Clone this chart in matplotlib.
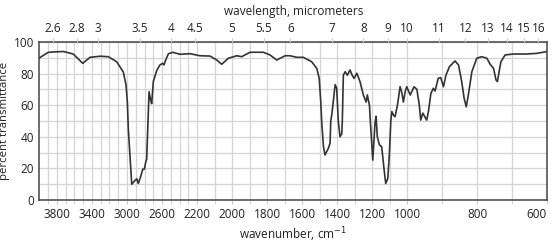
import numpy as np
import matplotlib
matplotlib.use('Agg')
import matplotlib.pyplot as plt
from matplotlib.ticker import FixedLocator, NullFormatter

plt.rcParams['font.family'] = ['Open Sans', 'DejaVu Sans']

# spectrum: wavenumber (cm^-1) and percent transmittance
wavenumber = [4000, 3899, 3728, 3614, 3506, 3423, 3309, 3214, 3118, 3042, 3011, 2996,
              2985, 2946, 2916, 2889, 2871, 2843, 2820, 2802, 2786, 2775, 2756, 2748,
              2729, 2718, 2699, 2660, 2623, 2592, 2577, 2566, 2528, 2478, 2394, 2280,
              2183, 2126, 2087, 2059, 2021, 1973, 1945, 1897, 1821, 1783, 1745, 1697,
              1669, 1630, 1593, 1545, 1516, 1502, 1493, 1488, 1478, 1469, 1450, 1440,
              1436, 1429, 1411, 1402, 1393, 1383, 1373, 1370, 1364, 1354, 1341, 1326,
              1314, 1303, 1287, 1269, 1250, 1234, 1227, 1215, 1211, 1196, 1189, 1183,
              1177, 1170, 1158, 1145, 1131, 1122, 1110, 1101, 1093, 1087, 1078, 1069,
              1055, 1040, 1031, 1021, 1011, 1002, 991, 980, 972, 965, 961, 955, 944,
              939, 932, 925, 920, 911, 904, 896, 889, 879, 863, 853, 844, 837, 831,
              825, 815, 801, 787, 772, 763, 753, 746, 742, 737, 732, 720, 696, 658,
              630, 601]
transmittance = [90, 93.5, 94, 92.4, 86.5, 90.3, 91, 90.7, 87.5, 81, 72.8, 62,
                 45, 10, 12, 13.5, 10.5, 15, 19.5, 19.5, 24, 26, 55, 68.5,
                 63, 61, 75, 82, 85.5, 86.5, 85.5, 87.5, 92.5, 93.5, 92.2, 92.6,
                 91.3, 91.1, 88.6, 85.9, 89.7, 91.3, 90.7, 93.5, 93.5, 91.8, 88.6, 91.3,
                 91.3, 90.3, 90.3, 87.5, 83.3, 77, 62, 50, 34, 28.5, 32.7, 36,
                 50, 55, 73, 70.7, 50, 40, 42, 50, 79, 81.2, 79, 82.3,
                 79, 77, 80.2, 75, 66.5, 62, 66.5, 60, 52, 25.3, 38, 49,
                 53, 40, 35, 33.7, 19, 10.5, 13.7, 29.5, 50, 56, 53.8, 52.7,
                 60, 71.7, 68.5, 62, 68.5, 71.7, 66.5, 71.7, 70, 60, 50.6, 55, 50.6,
                 56, 67.5, 70.7, 69, 77, 77.5, 71.7, 79, 84.4, 88, 85.4, 75, 64.3, 59,
                 66.5, 81.2, 89.7, 90.7, 89.7, 86, 83.3, 76, 75, 81.2, 87.5, 91.8, 92.4, 92.4,
                 92.8, 93.9]

wn_ticks = [3800, 3400, 3000, 2600, 2200, 2000, 1800, 1600, 1400, 1200, 1000, 800, 600]
wl_ticks = [2.6, 2.8, 3, 3.5, 4, 4.5, 5, 5.5, 6, 7, 8, 9, 10, 11, 12, 13, 14, 15, 16]
wl_labels = ['2.6', '2.8', '3', '3.5', '4', '4.5', '5', '5.5', '6', '7', '8', '9', '10',
             '11', '12', '13', '14', '15', '16']
y_ticks = [0, 20, 40, 60, 80, 100]

# chart paper scale: doubles at 2200 and again at 1000 cm-1
brk_w = [600, 1000, 2200, 4000]
brk_u = [0, 140, 350, 507.5]

def fwd(w):
    return np.interp(w, brk_w, brk_u)

def inv(u):
    return np.interp(u, brk_u, brk_w)

fig = plt.figure(figsize=(5.6, 2.47), dpi=100)
ax = fig.add_axes([0.0705, 0.190, 0.9065, 0.640])
ax.set_xscale('function', functions=(fwd, inv))
ax.set_xlim(4000, 600)
ax.set_ylim(0, 100)

grid_x = np.arange(700, 4000, 100)
ax.xaxis.set_minor_locator(FixedLocator(grid_x))
ax.xaxis.set_minor_formatter(NullFormatter())
ax.set_xticks(wn_ticks)
ax.set_xticklabels([str(t) for t in wn_ticks])
ax.get_xticklabels()[-1].set_ha('right')
ax.yaxis.set_minor_locator(FixedLocator(range(10, 100, 20)))
ax.set_yticks(y_ticks)
ax.grid(True, which='both', color='#d4d4d4', lw=0.9)
ax.set_axisbelow(True)

ax.plot(wavenumber, transmittance, color='#333333', lw=1.2)

ax.tick_params(axis='x', which='both', length=3, color='#cccccc', labelsize=8.5,
               pad=3, labelcolor='#222222')
ax.tick_params(axis='y', which='both', length=0, labelsize=8.5, pad=4,
               labelcolor='#222222')
for s in ax.spines.values():
    s.set_color('#444444')
    s.set_linewidth(1.1)

ax.set_xlabel('wavenumber, cm$^{-1}$', fontsize=8.5, color='#222222', labelpad=3)
ax.set_ylabel('percent transmittance', fontsize=8.2, color='#222222')
ax.yaxis.set_label_coords(-0.059, 0.5)

top = ax.twiny()
top.set_xscale('function', functions=(fwd, inv))
top.set_xlim(4000, 600)
top.set_xticks([10000 / l for l in wl_ticks])
top.set_xticklabels(wl_labels)
top.tick_params(axis='x', length=3, color='#cccccc', labelsize=8.5, pad=2,
                labelcolor='#222222')
for s in top.spines.values():
    s.set_visible(False)
top.set_xlabel('wavelength, micrometers', fontsize=8.5, color='#222222', labelpad=5)

fig.savefig('out.png', dpi=100)
